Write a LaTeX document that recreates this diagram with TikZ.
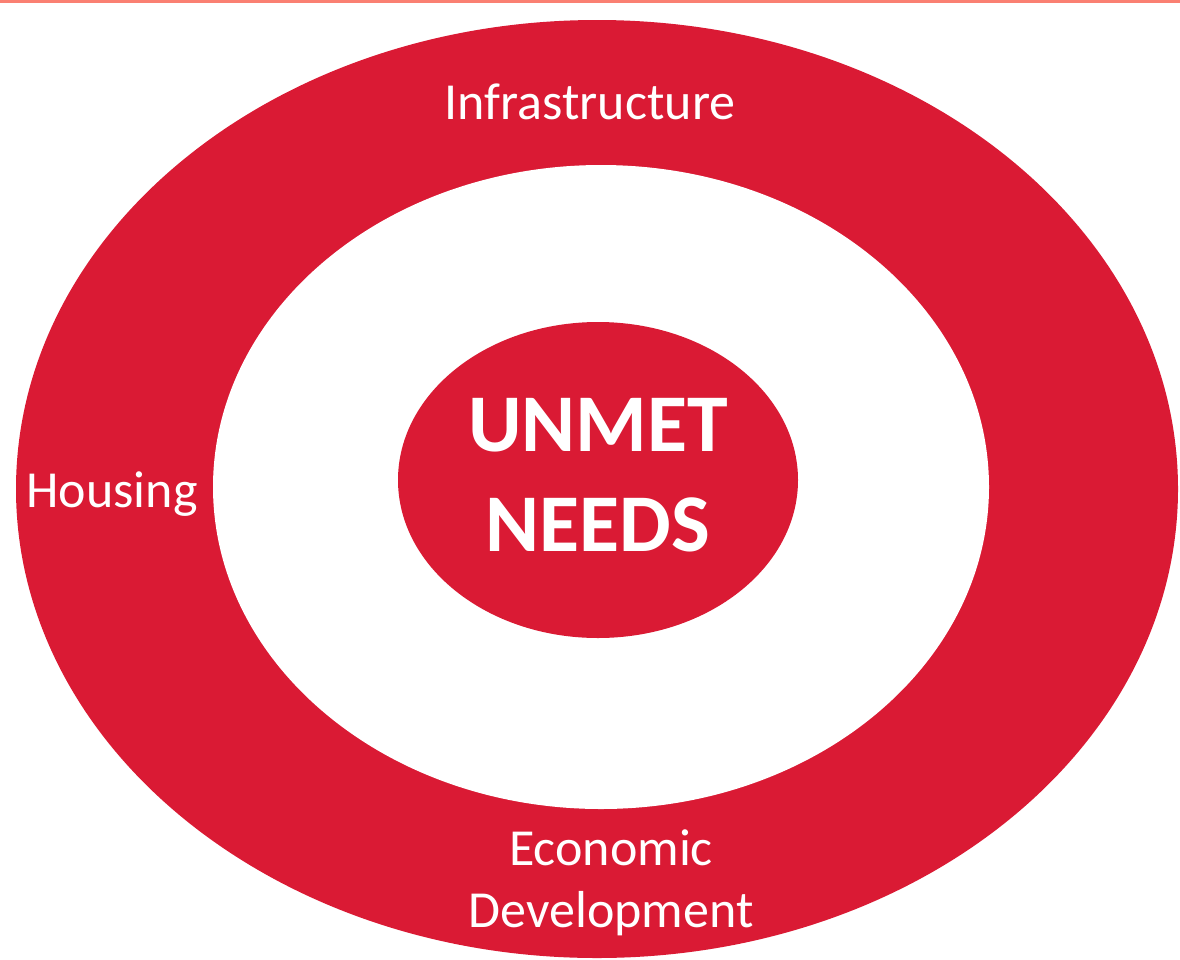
\documentclass[tikz,border=0pt]{standalone}
\usepackage{fontspec}
\setmainfont{Carlito}
\usetikzlibrary{positioning}
\definecolor{unmetred}{RGB}{218,26,52}
\definecolor{toprule}{RGB}{250,128,114}

\begin{document}
\begin{tikzpicture}[x=1pt,y=-1pt,
		ringtext/.style={text=white,anchor=base,align=center,inner sep=0pt,font=\fontsize{52}{62}\selectfont},
		coretext/.style={text=white,anchor=base,align=center,inner sep=0pt,font=\fontsize{82}{100}\selectfont\bfseries}]
				\useasboundingbox (0,0) rectangle (1180,959);
				\clip (0,0) rectangle (1180,959);
				\fill[toprule] (0,0) rectangle (1180,3);
				\fill[unmetred] (597,489) ellipse (581pt and 469pt);
				\fill[white] (601,487) ellipse (388pt and 322pt);
				\fill[unmetred] (598,480) ellipse (200pt and 158pt);
				\node[coretext] (unmet) at (598,551) {UNMET\\NEEDS};
				\node[ringtext] (infra) at (590,119) {Infrastructure};
				\node[ringtext] (housing) at (112,507) {Housing};
				\node[ringtext] (econ) at (611,927) {Economic\\Development};
			\end{tikzpicture}
\end{document}
